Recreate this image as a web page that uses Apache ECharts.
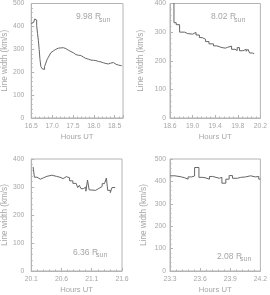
<!DOCTYPE html>
<html><head><meta charset="utf-8">
<script src="https://cdn.jsdelivr.net/npm/echarts@6/dist/echarts.min.js"></script>
<style>html,body{margin:0;padding:0;background:#fff}#c{width:270px;height:295px}</style>
</head><body><div id="c"></div>
<script>
// Panel 1: 9.98 Rsun
const p1Hours = [16.50,16.53,16.56,16.58,16.61,16.63,16.65,16.67,16.69,16.71,16.73,16.76,16.79,16.82,16.85,16.88,16.91,16.94,16.97,17.00,17.03,17.06,17.09,17.12,17.15,17.18,17.21,17.24,17.27,17.30,17.33,17.36,17.39,17.42,17.45,17.48,17.51,17.54,17.57,17.60,17.63,17.66,17.69,17.72,17.75,17.78,17.81,17.84,17.87,17.90,17.93,17.96,17.99,18.02,18.05,18.08,18.11,18.14,18.17,18.20,18.23,18.26,18.29,18.32,18.35,18.38,18.41,18.44,18.47,18.50,18.53,18.56,18.59,18.62,18.65,18.67];
const p1Width = [412,418,415,432,428,405,370,340,300,255,225,215,212,225,240,255,265,275,285,293,298,300,300,305,308,306,308,307,306,303,300,296,294,290,288,285,282,277,279,274,272,273,268,266,265,260,258,257,256,253,255,252,255,251,248,247,244,245,243,241,242,238,240,236,235,240,243,242,238,235,233,231,230,229,228,228];
// Panel 2: 8.02 Rsun
const p2Hours = [18.62,18.67,18.71,18.77,18.86,18.91,19.00,19.06,19.12,19.17,19.23,19.29,19.37,19.43,19.52,19.58,19.62,19.69,19.75,19.79,19.83,19.89,19.95,19.98,20.01,20.06,20.09];
const p2Width = [520,333,326,300,295,293,299,290,281,275,267,259,252,246,244,247,251,240,236,246,235,240,233,240,227,225,225];
// Panel 3: 6.36 Rsun
const p3Hours = [20.13,20.153,20.196,20.25,20.304,20.358,20.438,20.519,20.573,20.627,20.68,20.734,20.788,20.842,20.868,20.895,20.922,20.96,21.003,21.03,21.057,21.084,21.164,21.218,21.272,21.31,21.342,21.364,21.407,21.434,21.487];
const p3Width = [372,335,328,333,338,342,338,335,330,337,333,322,313,308,298,306,294,300,285,325,290,288,295,302,312,318,332,288,280,298,298];
// Panel 4: 2.08 Rsun
const p4Hours = [23.30,23.349,23.365,23.415,23.447,23.48,23.513,23.545,23.588,23.627,23.66,23.693,23.725,23.758,23.79,23.817,23.856,23.889,23.922,23.97,24.004,24.053,24.102,24.151,24.184,24.2];
const p4Width = [425,422,420,416,410,420,424,462,418,415,410,422,418,414,418,392,410,426,414,418,420,425,420,422,410,410];

const panelLabels = ['9.98 R','8.02 R','6.36 R','2.08 R'];
const subLabel = 'sun';
const xTitle = 'Hours UT';
const yTitle = 'Line width (km/s)';

const panels = [
  {h:p1Hours, w:p1Width, xmin:16.5, xmax:18.7, xint:0.5, ymax:500, grid:{left:29,top:1,width:94,height:117}, lm:7, ng:19, txt:[76,17.5]},
  {h:p2Hours, w:p2Width, xmin:18.6, xmax:20.2, xint:0.4, ymax:400, grid:{left:170,top:1,width:93,height:117}, lm:4, ng:25, txt:[211,17.5]},
  {h:p3Hours, w:p3Width, xmin:20.1, xmax:21.6, xint:0.5, ymax:400, grid:{left:29,top:159,width:93,height:113}, lm:7, ng:19, txt:[73,253]},
  {h:p4Hours, w:p4Width, xmin:23.3, xmax:24.2, xint:0.3, ymax:500, grid:{left:170,top:159,width:92,height:113}, lm:4, ng:22, txt:[217,257]}
];

const AX='#b4b4b4', TX='#a6a6a6', LN='#666666', FONT='Liberation Sans';
const grids=[], xAxes=[], yAxes=[], series=[], graphics=[];
panels.forEach((p,i)=>{
  grids.push(Object.assign({show:true,borderColor:AX,borderWidth:1,containLabel:false}, p.grid));
  xAxes.push({type:'value', gridIndex:i, min:p.xmin, max:p.xmax, interval:p.xint,
    name:xTitle, nameLocation:'middle', nameGap:15, nameTextStyle:{color:TX,fontSize:7.7,fontFamily:FONT},
    axisLine:{lineStyle:{color:AX,width:1}}, axisTick:{inside:true,length:3,lineStyle:{color:AX}},
    minorTick:{show:true,splitNumber:5,length:1.5,lineStyle:{color:AX}},
    splitLine:{show:false},
    axisLabel:{color:TX,fontSize:6.8,fontFamily:FONT,margin:5,showMaxLabel:true,
      formatter:v=>{const k=(v-p.xmin)/p.xint; return Math.abs(k-Math.round(k))<1e-6? v.toFixed(1):'';}}});
  yAxes.push({type:'value', gridIndex:i, min:0, max:p.ymax, interval:100,
    name:yTitle, nameLocation:'middle', nameGap:p.ng, nameRotate:90, nameTextStyle:{color:TX,fontSize:8.2,fontFamily:FONT},
    axisLine:{show:true,lineStyle:{color:AX,width:1}}, axisTick:{show:true,inside:true,length:3,lineStyle:{color:AX}},
    minorTick:{show:true,splitNumber:5,length:1.5,lineStyle:{color:AX}},
    splitLine:{show:false},
    axisLabel:{color:TX,fontSize:6.8,fontFamily:FONT,margin:p.lm}});
  series.push({type:'line', xAxisIndex:i, yAxisIndex:i, step:'end', symbol:'none', clip:true,
    lineStyle:{color:LN,width:1}, data:p.h.map((x,j)=>[x,p.w[j]])});
  graphics.push({type:'text', left:p.txt[0], top:p.txt[1]-5, style:{text:panelLabels[i], fill:TX, font:'8.5px '+FONT}});
  graphics.push({type:'text', left:p.txt[0]+23, top:p.txt[1]-1, style:{text:subLabel, fill:TX, font:'7px '+FONT}});
});

const chart = echarts.init(document.getElementById('c'), null, {renderer:'canvas'});
chart.setOption({animation:false, backgroundColor:'#fff', grid:grids, xAxis:xAxes, yAxis:yAxes, series:series, graphic:graphics});
</script></body></html>
